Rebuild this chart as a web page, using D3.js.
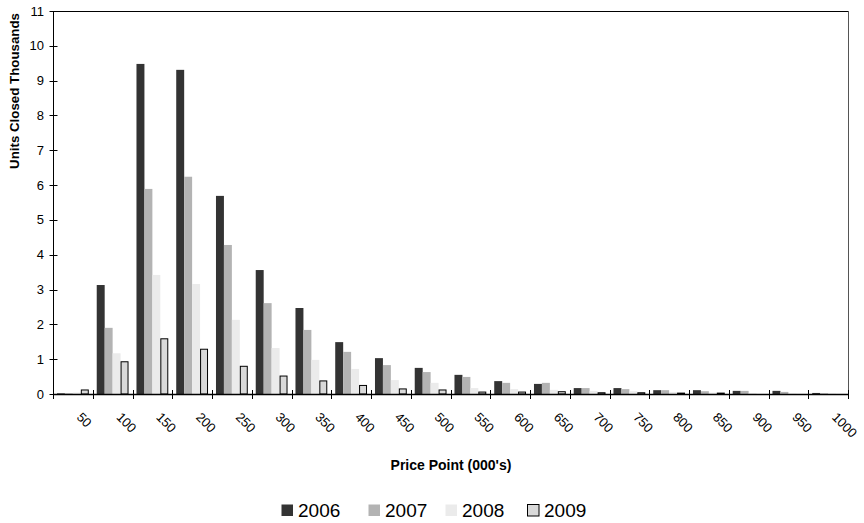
<!DOCTYPE html>
<html><head><meta charset="utf-8">
<script src="https://cdn.jsdelivr.net/npm/d3@7"></script>
<style>
body{margin:0;background:#fff;}
svg{display:block;font-family:"Liberation Sans",Arial,sans-serif;}
</style></head>
<body><svg id="c" width="864" height="523"></svg>
<script>
const categories = ["50","100","150","200","250","300","350","400","450","500","550","600","650","700","750","800","850","900","950","1000"];
const seriesNames = ["2006","2007","2008","2009"];
const v2006 = [0.02,3.13,9.48,9.31,5.69,3.56,2.47,1.49,1.03,0.75,0.55,0.37,0.29,0.17,0.17,0.11,0.11,0.09,0.09,0.03];
const v2007 = [0.02,1.90,5.89,6.24,4.28,2.61,1.84,1.21,0.83,0.63,0.49,0.32,0.32,0.17,0.14,0.11,0.08,0.09,0.06,0.02];
const v2008 = [0.04,1.17,3.42,3.16,2.13,1.32,0.98,0.72,0.40,0.32,0.17,0.14,0.12,0.09,0.08,0.06,0.04,0.02,0.01,0.01];
const v2009 = [0.13,0.94,1.60,1.30,0.81,0.53,0.39,0.26,0.16,0.13,0.07,0.07,0.08,0.05,0.05,0.04,0.04,0.01,0.00,0.00];
const yTicks = [0,1,2,3,4,5,6,7,8,9,10,11];
const seriesValues = [v2006,v2007,v2008,v2009];
const fills = ["#333333","#b3b3b3","#ebebeb","#d9d9d9"];
const strokes = ["none","none","none","#000"];

const svg = d3.select("#c");
const L = 53, R = 848, T = 11, B = 394;
const x = d3.scaleBand().domain(categories).range([L, R]).padding(0);
const bw = x.bandwidth();
const xs = d3.scaleBand().domain(seriesNames).range([bw*0.1, bw*0.9]).padding(0);
const y = d3.scaleLinear().domain([0, 11]).range([B, T]);

// plot frame
svg.append("line").attr("x1",L).attr("x2",R).attr("y1",T+0.5).attr("y2",T+0.5).attr("stroke","#000");
svg.append("line").attr("x1",R+0.5).attr("x2",R+0.5).attr("y1",T).attr("y2",B).attr("stroke","#555");

// bars
seriesNames.forEach((s, si) => {
  svg.append("g").selectAll("rect").data(seriesValues[si]).join("rect")
    .attr("x", (d, i) => x(categories[i]) + xs(s) + (si===3?0.5:0))
    .attr("y", d => y(d) + (si===3?0.5:0))
    .attr("width", xs.bandwidth() - (si===3?1:0))
    .attr("height", d => Math.max(0, B - y(d)) - (si===3?0.5:0))
    .attr("fill", fills[si])
    .attr("stroke", strokes[si])
    .attr("stroke-width", 1);
});

// y axis
const yAxis = svg.append("g").attr("transform", `translate(${L+0.5},0)`);
yAxis.append("line").attr("x1",0).attr("x2",0).attr("y1",T).attr("y2",B).attr("stroke","#000");
yAxis.selectAll("line.t").data(yTicks).join("line").attr("class","t")
  .attr("x1",-4).attr("x2",4).attr("y1",d=>Math.round(y(d))+0.5).attr("y2",d=>Math.round(y(d))+0.5).attr("stroke","#000");
yAxis.selectAll("text").data(yTicks).join("text")
  .attr("x",-9.5).attr("y",d=>y(d)).attr("dy","0.35em")
  .attr("text-anchor","end").attr("font-size",13).attr("fill","#000").text(d=>d);

// x axis
const xAxis = svg.append("g");
xAxis.append("line").attr("x1",L).attr("x2",R+1).attr("y1",B+0.5).attr("y2",B+0.5).attr("stroke","#000").attr("stroke-width",1.5);
const bounds = categories.map(c => x(c)).concat([R]);
xAxis.selectAll("line.t").data(bounds).join("line").attr("class","t")
  .attr("x1",d=>Math.round(d)+0.5).attr("x2",d=>Math.round(d)+0.5).attr("y1",B-4).attr("y2",B+5).attr("stroke","#000");
xAxis.selectAll("text").data(categories).join("text")
  .attr("transform", d => `translate(${x(d)+bw/2+3},${B+24}) rotate(45)`)
  .attr("text-anchor","start").attr("font-size",13).attr("fill","#000").text(d=>d);

// titles
svg.append("text").attr("x",451).attr("y",470).attr("text-anchor","middle")
  .attr("font-size",14).attr("font-weight","bold").text("Price Point (000's)");
svg.append("text").attr("transform","translate(19,91) rotate(-90)").attr("text-anchor","middle")
  .attr("font-size",13.3).attr("font-weight","bold").text("Units Closed Thousands");

// legend
const legX = [281, 368, 445, 527];
const leg = svg.append("g").selectAll("g").data(seriesNames).join("g")
  .attr("transform",(d,i)=>`translate(${legX[i]},504)`);
leg.append("rect").attr("x",0.5).attr("y",0.5).attr("width",11.5).attr("height",11.5)
  .attr("fill",(d,i)=>fills[i]).attr("stroke",(d,i)=>i===3?"#000":"none");
leg.append("text").attr("x",17).attr("y",13).attr("font-size",19).attr("fill","#000").text(d=>d);
</script></body></html>
